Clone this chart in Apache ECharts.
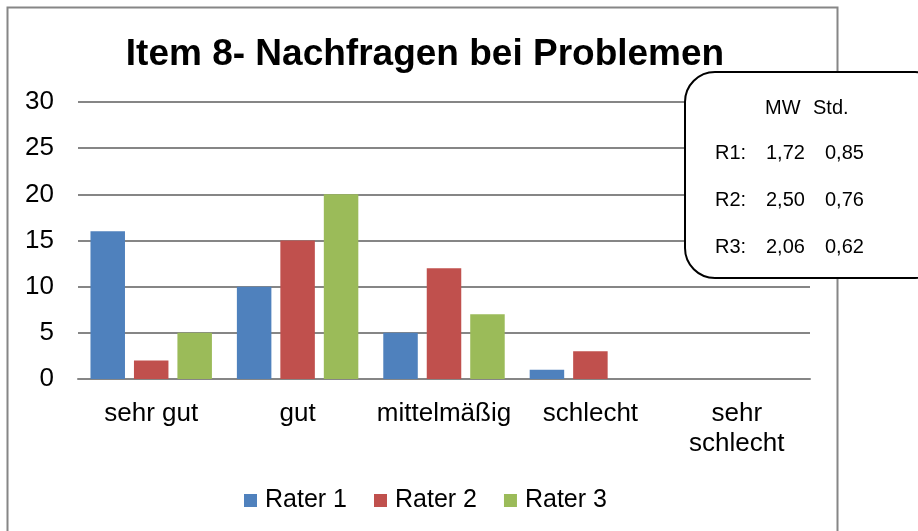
<!DOCTYPE html>
<html><head><meta charset="utf-8">
<script src="https://cdn.jsdelivr.net/npm/echarts@6/dist/echarts.min.js"></script>
<style>html,body{margin:0;padding:0;background:#fff}#c{width:918px;height:531px}</style>
</head><body><div id="c"></div>
<script>
const categories = ['sehr gut', 'gut', 'mittelmäßig', 'schlecht', 'sehr\nschlecht'];
const rater1 = [16, 10, 5, 1, 0];
const rater2 = [2, 15, 12, 3, 0];
const rater3 = [5, 20, 7, 0, 0];
const seriesNames = ['Rater 1', 'Rater 2', 'Rater 3'];
const statHeader = ['MW', 'Std.'];
const statRows = ['R1:', 'R2:', 'R3:'];
const statMW = ['1,72', '2,50', '2,06'];
const statStd = ['0,85', '0,76', '0,62'];
const colors = ['#4f81bd', '#c0504d', '#9bbb59'];

const FONT = '"Liberation Sans", Arial, sans-serif';
const chart = echarts.init(document.getElementById('c'), null, {renderer: 'canvas'});

const txt = (s, x, y) => ({type: 'text', z: 11, silent: true,
  style: {text: s, x, y, font: '20px ' + FONT, fill: '#000', verticalAlign: 'middle', align: 'left'}});
const statText = [txt(statHeader[0], 765, 108), txt(statHeader[1], 813, 108)];
const rowY = [153, 200, 247];
for (let i = 0; i < statRows.length; i++) {
  statText.push(txt(statRows[i], 715, rowY[i]));
  statText.push(txt(statMW[i], 766, rowY[i]));
  statText.push(txt(statStd[i], 825, rowY[i]));
}

const mkSeries = (name, data, color) => ({
  name, type: 'bar', data,
  itemStyle: {color},
  barWidth: 34.5, barGap: '26%'
});

chart.setOption({
  animation: false,
  color: colors,
  title: {
    text: 'Item 8- Nachfragen bei Problemen',
    left: 420, top: 31, textAlign: 'center',
    textStyle: {fontFamily: FONT, fontWeight: 'bold', fontSize: 37, color: '#000'}
  },
  legend: {
    data: seriesNames,
    top: 483, left: 239,
    itemWidth: 13, itemHeight: 13, itemGap: 27,
    icon: 'rect',
    textStyle: {fontFamily: FONT, fontSize: 25, color: '#000', padding: [0, 0, 0, 3]}
  },
  grid: {left: 78, right: 108, top: 102, bottom: 152, containLabel: false},
  xAxis: {
    type: 'category', data: categories,
    axisLine: {lineStyle: {color: '#868686', width: 2}},
    axisTick: {show: false},
    axisLabel: {interval: 0, fontFamily: FONT, fontSize: 26, color: '#000', margin: 20, lineHeight: 30}
  },
  yAxis: {
    type: 'value', min: 0, max: 30, interval: 5,
    axisLine: {show: false}, axisTick: {show: false},
    splitLine: {lineStyle: {color: '#868686', width: 2}},
    axisLabel: {fontFamily: FONT, fontSize: 26, color: '#000', margin: 24}
  },
  series: [
    mkSeries(seriesNames[0], rater1, colors[0]),
    mkSeries(seriesNames[1], rater2, colors[1]),
    mkSeries(seriesNames[2], rater3, colors[2])
  ],
  graphic: [
    {type: 'rect', z: -1, silent: true, shape: {x: 7.5, y: 7.5, width: 830, height: 540}, style: {fill: 'none', stroke: '#868686', lineWidth: 2}},
    {type: 'rect', z: 10, silent: true, shape: {x: 685, y: 72, width: 260, height: 206, r: 30}, style: {fill: '#fff', stroke: '#000', lineWidth: 2}}
  ].concat(statText)
});
</script></body></html>
